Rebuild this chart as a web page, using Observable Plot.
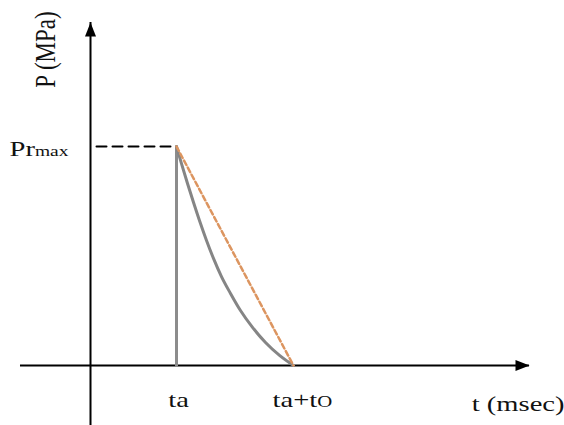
<!DOCTYPE html>
<html>
<head>
<meta charset="utf-8">
<script src="https://cdn.jsdelivr.net/npm/d3@7"></script>
<script src="https://cdn.jsdelivr.net/npm/@observablehq/plot@0.6"></script>
<style>
  html, body { margin: 0; padding: 0; background: #fff; }
  #chart svg { display: block; }
  #chart svg text { font-family: "Liberation Serif", "Times New Roman", serif !important; }
</style>
</head>
<body>
<div id="chart"></div>
<script>
// ---- data (arbitrary units: t in units of ta, P in units of Pr_max) ----
const ta = 1.0;          // arrival time
const to = 1.36;         // positive phase duration
const prMax = 1.0;       // peak reflected pressure
const xAxisExtent = [-0.814, 5.105];   // t-axis from left end to arrow tip
const yAxisExtent = [-0.28, 1.566];    // P-axis from bottom to arrow tip

// decay curve
const curveT = [1.000, 1.058, 1.128, 1.198, 1.267, 1.349, 1.430, 1.523, 1.628, 1.744, 1.884, 2.035, 2.198, 2.360];
const curveP = [1.000, 0.922, 0.831, 0.744, 0.662, 0.571, 0.489, 0.406, 0.329, 0.251, 0.174, 0.105, 0.046, 0.000];

// labels
const yLabel = "P (MPa)";
const xLabel = "t (msec)";
const prLabel = "Pr";
const prSub = "max";
const taLabel = "ta";
const tatoLabel = "ta+t";
const tatoSub = "O";

// ---- derived tables ----
const curve = curveT.map((t, i) => ({t, p: curveP[i]}));
const rise = [{t: ta, p: 0}, {t: ta, p: prMax}];
const linear = [{t: ta, p: prMax}, {t: ta + to, p: 0}];
const level = [{t: 0, p: prMax}, {t: ta, p: prMax}];

const arrowHead = {
  draw(ctx) {
    ctx.moveTo(0, 0);
    ctx.lineTo(5.5, 14);
    ctx.lineTo(-5.5, 14);
    ctx.closePath();
  }
};

const chart = Plot.plot({
  width: 564,
  height: 425,
  margin: 0,
  style: {fontFamily: "'Liberation Serif', serif", background: "#fff"},
  x: {domain: [0, ta], range: [90, 176], axis: null},
  y: {domain: [0, prMax], range: [365, 146], axis: null},
  marks: [
    // axes
    Plot.ruleX([0], {y1: yAxisExtent[0], y2: yAxisExtent[1], stroke: "black", strokeWidth: 2}),
    Plot.ruleY([0], {x1: xAxisExtent[0], x2: xAxisExtent[1], stroke: "black", strokeWidth: 2}),
    Plot.dot([{t: 0, p: yAxisExtent[1]}], {x: "t", y: "p", symbol: arrowHead, fill: "black", stroke: null, r: 5}),
    Plot.dot([{t: xAxisExtent[1], p: 0}], {x: "t", y: "p", symbol: arrowHead, fill: "black", stroke: null, r: 5, rotate: 90}),
    // Pr_max level dashed line
    Plot.line(level, {x: "t", y: "p", stroke: "black", strokeWidth: 2, strokeDasharray: "10,6", strokeDashoffset: 10}),
    // pressure history
    Plot.line(rise, {x: "t", y: "p", stroke: "#8c8c8c", strokeWidth: 3}),
    Plot.line(curve, {x: "t", y: "p", stroke: "#858585", strokeWidth: 3, curve: "monotone-x"}),
    Plot.line(linear, {x: "t", y: "p", stroke: "#dc9560", strokeWidth: 2.5, strokeDasharray: "5,3"}),
    // labels
    Plot.text([yLabel], {x: 0, y: yAxisExtent[1], text: d => d, rotate: -90, textAnchor: "middle", lineAnchor: "bottom", dx: -36, dy: 27, fontSize: 23, fill: "#111"}),
    Plot.text([prLabel], {x: 0, y: prMax, text: d => d, textAnchor: "end", lineAnchor: "bottom", dx: -22, dy: 9, fontSize: 22, fill: "#111"}),
    Plot.text([taLabel], {x: ta, y: 0, text: d => d, textAnchor: "middle", lineAnchor: "bottom", dx: 2, dy: 41, fontSize: 22, fill: "#111"}),
    Plot.text([tatoLabel], {x: ta + to, y: 0, text: d => d, textAnchor: "middle", lineAnchor: "bottom", dx: 9, dy: 41, fontSize: 22, fill: "#111"}),
    Plot.text([xLabel], {x: xAxisExtent[1], y: 0, text: d => d, textAnchor: "end", lineAnchor: "bottom", dx: 35, dy: 45, fontSize: 22, fill: "#111"})
  ]
});

// post-process text: subscripts, serif face and horizontal stretch of the original figure
const stretch = 1.3;
d3.select(chart).selectAll("text").each(function () {
  const el = this;
  const txt = el.textContent;
  el.style.fontFamily = "'Liberation Serif', serif";
  if (txt === prLabel) {
    d3.select(el).append("tspan").attr("font-size", 15).text(prSub);
  } else if (txt === tatoLabel) {
    d3.select(el).append("tspan").attr("font-size", 16).text(tatoSub);
  }
  let tr = el.getAttribute("transform") || "";
  if (!/translate/.test(tr) && el.hasAttribute("x")) {
    const x = +el.getAttribute("x") || 0, y = +el.getAttribute("y") || 0;
    el.removeAttribute("x"); el.removeAttribute("y");
    tr = `translate(${x},${y}) ` + tr;
  }
  if (/rotate/.test(tr)) tr += ` scale(1,${stretch})`;
  else tr += ` scale(${stretch},1)`;
  el.setAttribute("transform", tr.trim());
});

document.getElementById("chart").appendChild(chart);
</script>
</body>
</html>
